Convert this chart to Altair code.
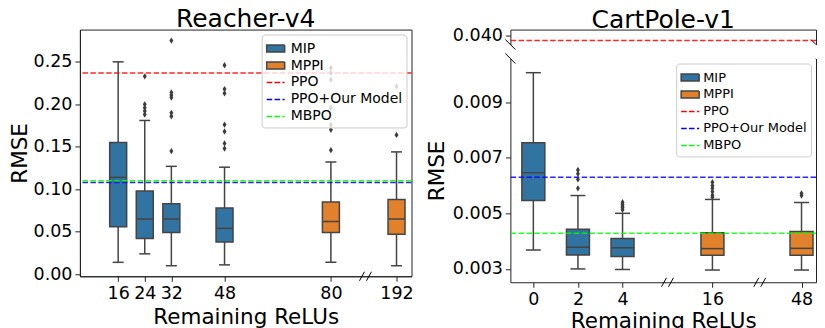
import altair as alt
import pandas as pd

FONT = "DejaVu Sans"
LEGEND_NAMES = ["MIP", "MPPI", "PPO", "PPO+Our Model", "MBPO"]
LEGEND_FILLS = ["#3274a1", "#e1812c", "#ff0000", "#0000ff", "#00ff00"]
METHOD_COLORS = {"MIP": "#3274a1", "MPPI": "#e1812c"}
LINE_COLORS = {"PPO": "#ff0000", "PPO+Our Model": "#0000ff", "MBPO": "#00ff00"}
EDGE = "#444444"
FRAME = "#222222"

# ---------------- Reacher-v4 ----------------
reacher_relus = [16, 24, 32, 48, 80, 192]
reacher_method = ["MIP", "MIP", "MIP", "MIP", "MPPI", "MPPI"]
reacher_low = [0.014, 0.024, 0.010, 0.011, 0.014, 0.010]
reacher_q1 = [0.056, 0.042, 0.049, 0.038, 0.049, 0.047]
reacher_median = [0.114, 0.065, 0.065, 0.054, 0.062, 0.065]
reacher_q3 = [0.155, 0.098, 0.083, 0.078, 0.085, 0.088]
reacher_high = [0.250, 0.181, 0.127, 0.126, 0.132, 0.144]
reacher_outliers = {
    24: [0.233, 0.200, 0.196, 0.192, 0.188],
    32: [0.275, 0.214, 0.211, 0.208, 0.190, 0.186, 0.145],
    48: [0.246, 0.218, 0.213, 0.176, 0.168, 0.154, 0.148],
    80: [0.243, 0.237, 0.229, 0.196, 0.176, 0.170, 0.146],
    192: [0.221, 0.164],
}
reacher_baselines = ["PPO", "PPO+Our Model", "MBPO"]
reacher_baseline_values = [0.237, 0.108, 0.110]
reacher_yticks = [0.0, 0.05, 0.10, 0.15, 0.20, 0.25]

# ---------------- CartPole-v1 ----------------
cart_relus = [0, 2, 4, 16, 48]
cart_method = ["MIP", "MIP", "MIP", "MPPI", "MPPI"]
cart_low = [0.00368, 0.00300, 0.00298, 0.00296, 0.00296]
cart_q1 = [0.00546, 0.00350, 0.00345, 0.00349, 0.00349]
cart_median = [0.00646, 0.00378, 0.00376, 0.00373, 0.00374]
cart_q3 = [0.00754, 0.00443, 0.00409, 0.00430, 0.00435]
cart_high = [0.01006, 0.00564, 0.00500, 0.00550, 0.00539]
cart_outliers = {
    2: [0.00656, 0.00642, 0.00622, 0.00590],
    4: [0.00540, 0.00533, 0.00526, 0.00520, 0.00513],
    16: [0.00612, 0.00600, 0.00590, 0.00578, 0.00565, 0.00558],
    48: [0.00572, 0.00564],
}
cart_baselines = ["PPO", "PPO+Our Model", "MBPO"]
cart_baseline_values = [0.0395, 0.0063, 0.00428]
cart_yticks_low = [0.003, 0.005, 0.007, 0.009]
cart_yticks_high = [0.040]

# ---------------- shared styling ----------------
DASH = [5.5, 2.4]
RECT = "M-1,-0.39L1,-0.39L1,0.39L-1,0.39Z"
DIAMOND = "M0,-1L0.62,0L0,1L-0.62,0Z"
fill_scale = alt.Scale(domain=LEGEND_NAMES, range=LEGEND_FILLS)
stroke_scale = alt.Scale(domain=LEGEND_NAMES,
                         range=[EDGE, EDGE, "#ff0000", "#0000ff", "#00ff00"])
dash_scale = alt.Scale(domain=LEGEND_NAMES, range=[[1, 0], [1, 0], DASH, DASH, DASH])
shape_scale = alt.Scale(domain=LEGEND_NAMES,
                        range=[RECT, RECT, "stroke", "stroke", "stroke"])

XT = "Remaining ReLUs"
YT = "RMSE"


def box_layers(relus, method, low, q1, med, q3, high, outliers,
               xscale, xaxis, yscale, yaxis, box_w, cap_w):
    boxes = pd.DataFrame(dict(relu=relus, method=method, low=low, q1=q1,
                              med=med, q3=q3, high=high))
    out = pd.DataFrame([(k, v) for k, vs in outliers.items() for v in vs],
                       columns=["relu", "value"])
    X = alt.X("relu:Q", scale=xscale, axis=xaxis, title=XT)

    def Y(f):
        return alt.Y(f + ":Q", scale=yscale, axis=yaxis, title=YT)

    base = alt.Chart(boxes)
    layers = [
        base.mark_rule(color=EDGE, strokeWidth=1.5).encode(x=X, y=Y("low"), y2="high:Q"),
        base.transform_fold(["low", "high"], as_=["k", "cap"]).mark_tick(
            orient="horizontal", size=cap_w, thickness=1.5, color=EDGE, opacity=1
        ).encode(x=X, y=Y("cap")),
    ]
    for m, col in METHOD_COLORS.items():
        sub = boxes[boxes["method"] == m]
        if len(sub):
            layers.append(alt.Chart(sub).mark_bar(
                size=box_w, stroke=EDGE, strokeWidth=1.5, fill=col, opacity=1
            ).encode(x=X, y=Y("q1"), y2="q3:Q"))
    layers.append(base.mark_tick(orient="horizontal", size=box_w, thickness=1.5,
                                 color=EDGE, opacity=1).encode(x=X, y=Y("med")))
    layers.append(alt.Chart(out).mark_point(shape=DIAMOND, filled=True, size=40,
                                            color="#3d3d3d", opacity=1).encode(
        x=X, y=Y("value")))
    return layers


def baseline_layers(names, values, yscale, yaxis, lo, hi, ytitle):
    layers = []
    for n, v in zip(names, values):
        if lo < v < hi:
            df = pd.DataFrame({"name": [n], "value": [v]})
            layers.append(alt.Chart(df).mark_rule(
                strokeWidth=1.5, opacity=0.85, color=LINE_COLORS[n], strokeDash=DASH
            ).encode(y=alt.Y("value:Q", scale=yscale, axis=yaxis, title=ytitle)))
    return layers


def legend_layer(yscale, yaxis, legend):
    df = pd.DataFrame({"name": LEGEND_NAMES, "v": [None] * len(LEGEND_NAMES)})
    return alt.Chart(df).mark_point(filled=True).encode(
        y=alt.Y("v:Q", scale=yscale, axis=yaxis, title=YT),
        shape=alt.Shape("name:N", scale=shape_scale, legend=legend),
        fill=alt.Fill("name:N", scale=fill_scale, legend=legend),
        stroke=alt.Stroke("name:N", scale=stroke_scale, legend=legend),
        strokeDash=alt.StrokeDash("name:N", scale=dash_scale, legend=legend))


def slash_layers(xs, yval, xscale, xaxis, yscale, yaxis, offsets,
                 xtitle=XT, ytitle=YT, clip=False):
    df = pd.DataFrame({"bx": xs, "by": [yval] * len(xs)})
    layers = []
    for (x0, x1, y0, y1) in offsets:
        layers.append(alt.Chart(df).mark_rule(
            color="black", strokeWidth=1, xOffset=x0, x2Offset=x1,
            yOffset=y0, y2Offset=y1, clip=clip).encode(
            x=alt.X("bx:Q", scale=xscale, axis=xaxis, title=xtitle), x2="bx:Q",
            y=alt.Y("by:Q", scale=yscale, axis=yaxis, title=ytitle), y2="by:Q"))
    return layers


XSLASH = [(-6, -1, 4.5, -4.5), (1, 6, 4.5, -4.5)]
YSLASH = [(-5, 5, -5, 5)]

# ---------------- left panel ----------------
LW, LH = 332, 247
l_xdom = [4.49, 80, 192, 196.5]
l_xscale = alt.Scale(type="linear", domain=l_xdom, range=[0, 251.3, 317, LW],
                     nice=False, zero=False, padding=0)
l_xaxis = alt.Axis(values=reacher_relus, format="d", labelAngle=0, domain=True,
                   titlePadding=5)
l_ydom = [-0.0024, 0.288]
l_yscale = alt.Scale(domain=l_ydom, nice=False, zero=False, padding=0)
l_yaxis = alt.Axis(values=reacher_yticks, format=".2f", domain=True, titlePadding=2)
l_legend = alt.Legend(title=None, labelFontSize=14, symbolSize=324, labelOffset=5)

left_layers = box_layers(reacher_relus, reacher_method, reacher_low, reacher_q1,
                         reacher_median, reacher_q3, reacher_high, reacher_outliers,
                         l_xscale, l_xaxis, l_yscale, l_yaxis, 17, 11)
left_layers += slash_layers([139], l_ydom[0], l_xscale, l_xaxis, l_yscale, l_yaxis, XSLASH)
left_layers += baseline_layers(reacher_baselines, reacher_baseline_values,
                               l_yscale, l_yaxis, l_ydom[0], l_ydom[1], YT)
left_layers.append(legend_layer(l_yscale, l_yaxis, l_legend))
left = alt.layer(*left_layers).properties(
    width=LW, height=LH,
    title=alt.TitleParams("Reacher-v4", offset=-2),
    view=alt.ViewBackground(stroke=FRAME, strokeWidth=1))

# ---------------- right panel ----------------
RW, RH_TOP, RH_BOT = 306, 15, 224
r_xdom = [-1.03, 4, 16, 48, 49.0]
r_xscale = alt.Scale(type="linear", domain=r_xdom, range=[0, 112.3, 202.3, 291.5, RW],
                     nice=False, zero=False, padding=0)
r_xaxis = alt.Axis(values=cart_relus, format="d", labelAngle=0, domain=True,
                   titlePadding=3)
r_xaxis_top = alt.Axis(orient="top", labels=False, ticks=False, domain=True)
r_ydom_bot = [0.00252, 0.01057]
r_ydom_top = [0.0391, 0.0406]
r_yscale_bot = alt.Scale(domain=r_ydom_bot, nice=False, zero=False, padding=0)
r_yscale_top = alt.Scale(domain=r_ydom_top, nice=False, zero=False, padding=0)
r_yaxis_bot = alt.Axis(values=cart_yticks_low, format=".3f", domain=True)
r_yaxis_top = alt.Axis(values=cart_yticks_high, format=".3f", domain=True)
right_spine = alt.Axis(orient="right", labels=False, ticks=False, domain=True)
r_legend = alt.Legend(title=None, labelFontSize=13, symbolSize=324, labelOffset=3)

# top (broken) part
top_inner = alt.layer(
    *slash_layers([r_xdom[0]], r_ydom_top[0], r_xscale, r_xaxis_top,
                  r_yscale_top, r_yaxis_top, YSLASH, xtitle=None, ytitle=None),
    *slash_layers([r_xdom[-1]], r_ydom_top[0], r_xscale, r_xaxis_top,
                  r_yscale_top, r_yaxis_top, YSLASH, xtitle=None, ytitle=None,
                  clip=True))
top_lines = alt.layer(*baseline_layers(cart_baselines, cart_baseline_values,
                                       r_yscale_top, right_spine,
                                       r_ydom_top[0], r_ydom_top[1], None))
top = alt.layer(top_inner, top_lines).resolve_axis(y="independent").properties(
    width=RW, height=RH_TOP, title=alt.TitleParams("CartPole-v1", offset=-6))

# bottom part
bot_layers = box_layers(cart_relus, cart_method, cart_low, cart_q1, cart_median,
                        cart_q3, cart_high, cart_outliers, r_xscale, r_xaxis,
                        r_yscale_bot, r_yaxis_bot, 23, 15)
bot_layers += slash_layers([10, 33], r_ydom_bot[0], r_xscale, r_xaxis,
                           r_yscale_bot, r_yaxis_bot, XSLASH)
bot_layers += slash_layers([r_xdom[0]], r_ydom_bot[1], r_xscale, r_xaxis,
                           r_yscale_bot, r_yaxis_bot, YSLASH)
bot_layers += slash_layers([r_xdom[-1]], r_ydom_bot[1], r_xscale, r_xaxis,
                           r_yscale_bot, r_yaxis_bot, YSLASH, clip=True)
bot_layers.append(legend_layer(r_yscale_bot, r_yaxis_bot, r_legend))
bot_inner = alt.layer(*bot_layers)
bot_lines = alt.layer(*baseline_layers(cart_baselines, cart_baseline_values,
                                       r_yscale_bot, right_spine,
                                       r_ydom_bot[0], r_ydom_bot[1], None))
bottom = alt.layer(bot_inner, bot_lines).resolve_axis(y="independent").properties(
    width=RW, height=RH_BOT)

right = alt.vconcat(top, bottom, spacing=2).resolve_scale(
    x="independent", y="independent", fill="independent", stroke="independent",
    strokeDash="independent", shape="independent").resolve_legend(
    fill="independent", stroke="independent", strokeDash="independent",
    shape="independent")

chart = alt.hconcat(left, right, spacing=11).resolve_scale(
    x="independent", y="independent", fill="independent", stroke="independent",
    strokeDash="independent", shape="independent").resolve_legend(
    fill="independent", stroke="independent", strokeDash="independent",
    shape="independent").properties(
    padding={"left": 0, "top": -2.6, "right": 0, "bottom": 0}
).configure_view(stroke=None).configure_axis(
    labelFont=FONT, labelFontSize=17.5, labelColor="black",
    titleFont=FONT, titleFontSize=21.5, titleFontWeight="normal", titleColor="black",
    tickColor=FRAME, tickSize=5, tickWidth=1, domainColor=FRAME, domainWidth=1,
    grid=False, labelPadding=3
).configure_axisY(titlePadding=4).configure_title(
    font=FONT, fontSize=25, fontWeight="normal", color="black", anchor="middle",
    frame="group"
).configure_legend(
    orient="top-right", offset=5, padding=4, fillColor="rgba(255,255,255,0.8)",
    strokeColor="#cccccc", cornerRadius=3, labelFont=FONT, labelFontSize=14,
    labelColor="black", symbolSize=324, symbolStrokeWidth=1.5, symbolOpacity=1,
    rowPadding=0, labelOffset=7, labelLimit=300
)

chart.save("out.html", embed_options={"renderer": "svg", "actions": False})
